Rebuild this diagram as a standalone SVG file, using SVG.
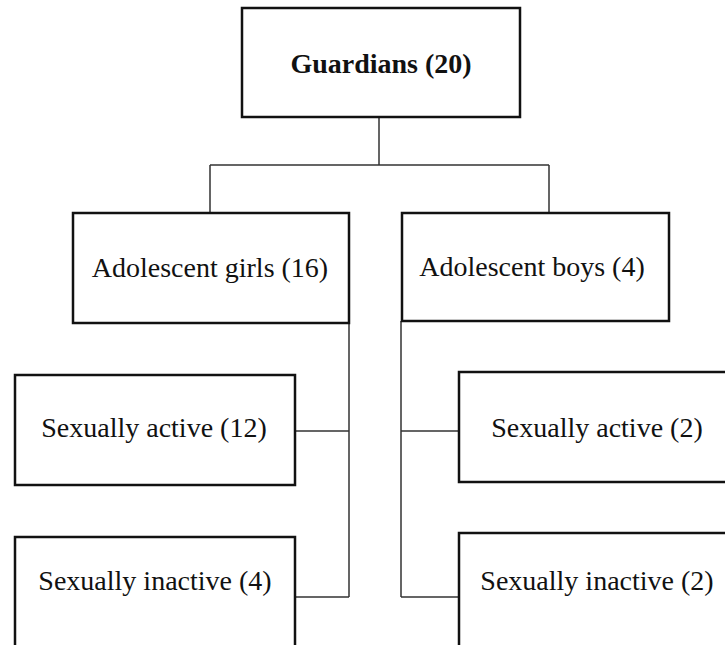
<svg xmlns="http://www.w3.org/2000/svg" width="725" height="645" viewBox="0 0 725 645">
<style>
.box{fill:#fff;stroke:#111;stroke-width:2.5}
.t{font-family:"Liberation Serif","Times New Roman",serif;font-size:28px;fill:#111;text-anchor:middle}
.b{font-weight:bold}
.c{fill:none;stroke:#333;stroke-width:1.5}
</style>
<rect width="725" height="645" fill="#fff"/>
<g id="connectors">
<path class="c" d="M379 117V165M210 165H549M210 165V213M549 165V213"/>
<path class="c" d="M349 323V597M295 431H349M295 597H349"/>
<path class="c" d="M401 321V597M401 431H459M401 597H459"/>
</g>
<g id="guardians"><rect class="box" x="242" y="8" width="278" height="109"/><text class="t b" x="381" y="73">Guardians (20)</text></g>
<g id="girls"><rect class="box" x="73" y="213" width="276" height="110"/><text class="t" x="210" y="277">Adolescent girls (16)</text></g>
<g id="boys"><rect class="box" x="402" y="213" width="267" height="108"/><text class="t" x="532" y="276">Adolescent boys (4)</text></g>
<g id="girls-active"><rect class="box" x="15" y="375" width="280" height="110"/><text class="t" x="154" y="437">Sexually active (12)</text></g>
<g id="girls-inactive"><rect class="box" x="15" y="537" width="280" height="130"/><text class="t" x="155" y="590">Sexually inactive (4)</text></g>
<g id="boys-active"><rect class="box" x="459" y="372" width="290" height="110"/><text class="t" x="597" y="437">Sexually active (2)</text></g>
<g id="boys-inactive"><rect class="box" x="459" y="533" width="290" height="130"/><text class="t" x="597" y="590">Sexually inactive (2)</text></g>
</svg>
